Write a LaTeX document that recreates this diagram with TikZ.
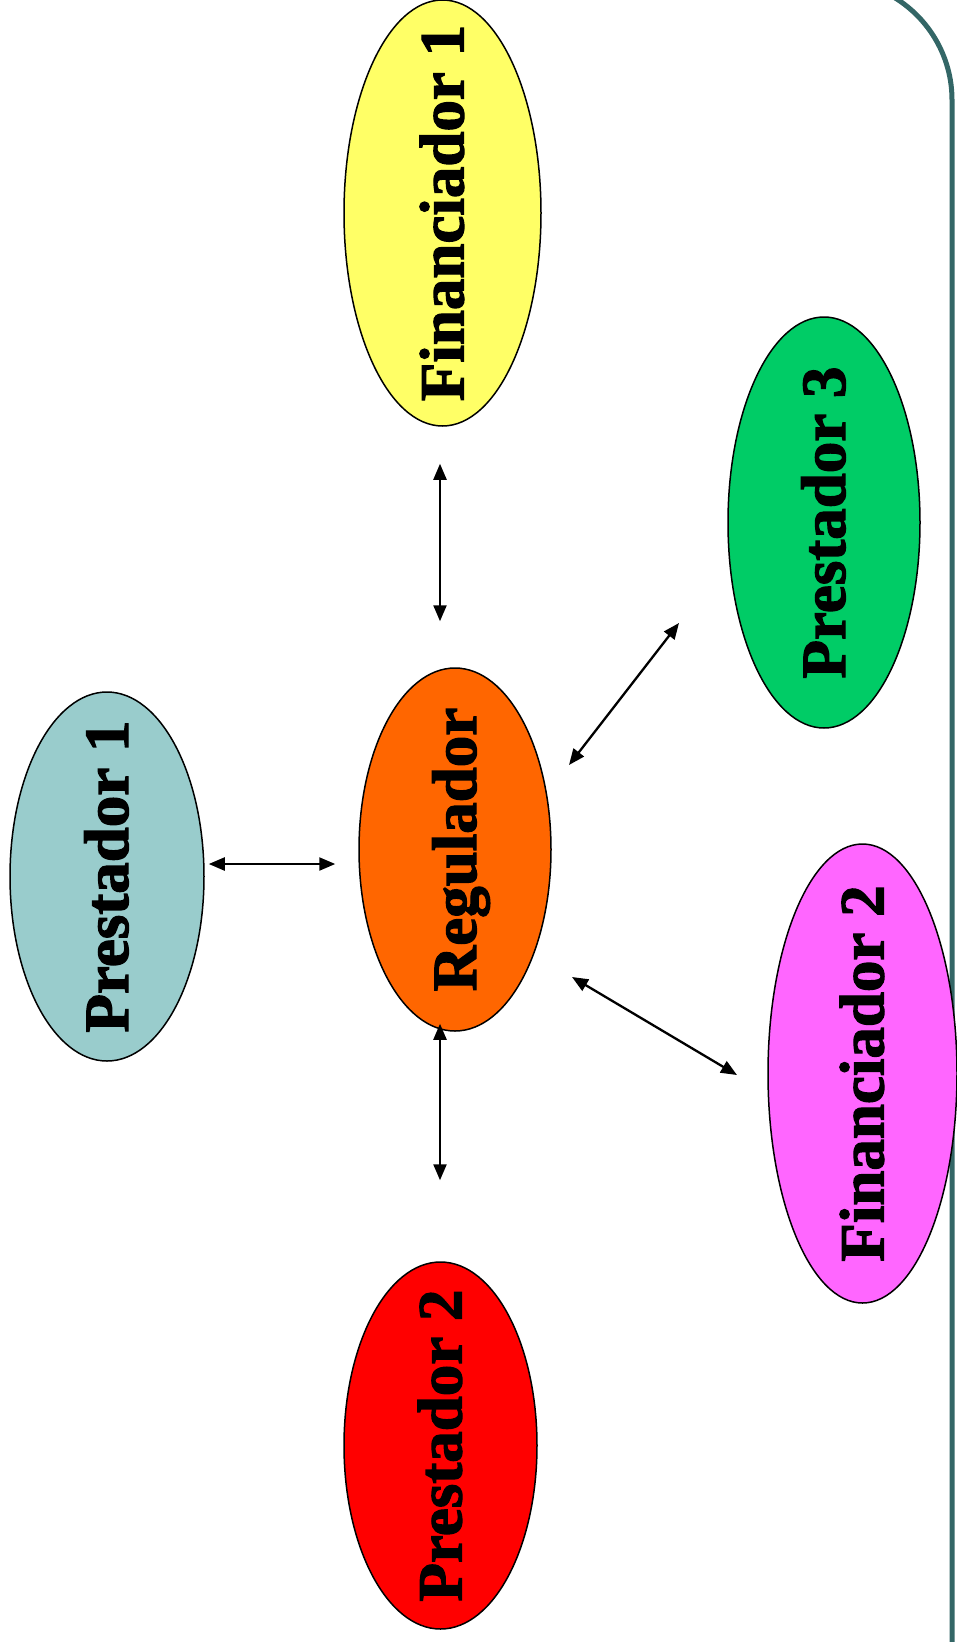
\documentclass[tikz,border=0pt]{standalone}
\usepackage{fontspec}
\setmainfont{Liberation Serif}
\newfontfamily\heavyserif[BoldFeatures={FakeBold=2}]{Liberation Serif}
\usetikzlibrary{arrows.meta,calc,shapes.geometric}
\definecolor{framec}{HTML}{336666}
\definecolor{fincA}{HTML}{FFFF66}
\definecolor{prescC}{HTML}{00CC66}
\definecolor{prescA}{HTML}{99CCCC}
\definecolor{regc}{HTML}{FF6600}
\definecolor{fincB}{HTML}{FF66FF}
\definecolor{prescB}{HTML}{FF0000}
\begin{document}
\begin{tikzpicture}[x=1pt,y=-1pt,
  blob/.style={ellipse, draw=black, line width=1.5pt, rotate=90, inner sep=0pt,
    text height=42pt, text depth=0pt, font=\heavyserif\fontsize{63}{63}\selectfont\bfseries},
  arr/.style={line width=2.3pt, {Triangle[length=16pt,width=13pt]}-{Triangle[length=16pt,width=13pt]}},
  frameline/.style={draw=framec, line width=5pt, rounded corners=120pt}]
\useasboundingbox (0,0) rectangle (957,1642);
\clip (0,0) rectangle (957,1642);
\draw[frameline] (-60,-20) -- (952,-20) -- (952,1720);

\node[blob, fill=fincA, minimum width=426pt, minimum height=197pt] (fin1) at (442.5,213) {\makebox[0pt]{Financiador 1}};
\node[blob, fill=prescC, minimum width=411pt, minimum height=192pt] (prest3) at (824,522.5) {\makebox[0pt]{Prestador 3}};
\node[blob, fill=prescA, minimum width=369pt, minimum height=194pt] (prest1) at (107,876.5) {\makebox[0pt]{Prestador 1}};
\node[blob, fill=regc, minimum width=363pt, minimum height=192pt] (reg) at (455,849.5) {\makebox[0pt]{Regulador}};
\node[blob, fill=fincB, minimum width=459pt, minimum height=189pt] (fin2) at (862.5,1073.5) {\makebox[0pt]{Financiador 2}};
\node[blob, fill=prescB, minimum width=367pt, minimum height=193pt] (prest2) at (440.5,1445.5) {\makebox[0pt]{Prestador 2}};

\draw[arr] ($(fin1.west)+(-2.5,37)$) -- ($(reg.east)+(-15,-46)$);
\draw[arr] ($(prest1.south)+(4,-12.5)$) -- ($(reg.north)+(-23,14.5)$);
\draw[arr] ($(reg.center)+(114,-84.5)$) -- ($(prest3.center)+(-145,100.5)$);
\draw[arr] ($(reg.center)+(117,127.5)$) -- ($(fin2.center)+(-125.5,1.5)$);
\draw[arr] ($(reg.west)+(-15,-8)$) -- ($(prest2.east)+(-0.5,-81)$);
\end{tikzpicture}
\end{document}
